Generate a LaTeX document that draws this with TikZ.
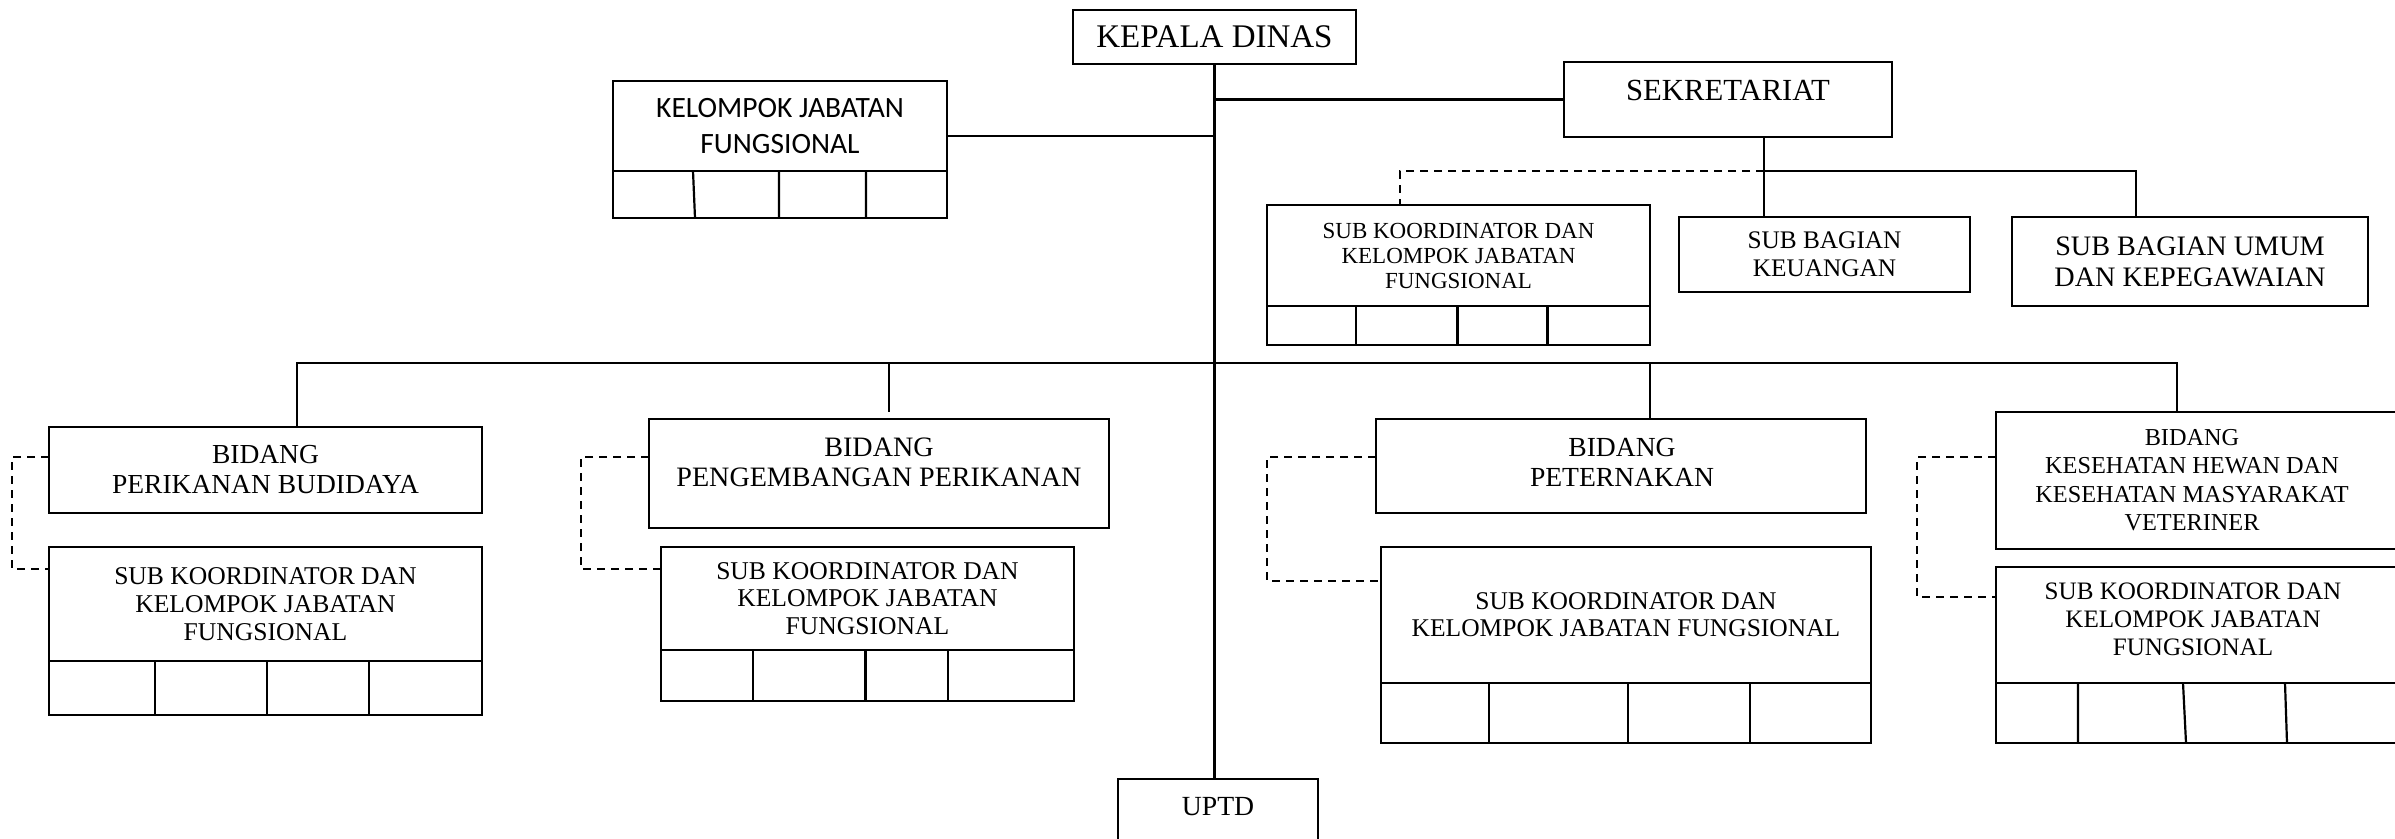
\documentclass[tikz,border=0pt]{standalone}
\usepackage{fontspec}
\setmainfont{Liberation Serif}
\newfontfamily\calib{Carlito}
\newcommand\fsz[2]{\fontsize{#1pt}{#2pt}\selectfont}
\begin{document}
\begin{tikzpicture}[x=1pt,y=-1pt,
  box/.style={draw, line width=2.5pt, inner sep=0pt, outer sep=0pt, anchor=north west, align=center},
  lbl/.style={inner sep=0pt, align=center},
  conn/.style={line width=2.2pt},
  dashconn/.style={line width=2.2pt, dash pattern=on 8pt off 6pt},
  cell/.style={line width=2.2pt}]
\useasboundingbox (0,0) rectangle (2395,838);
\clip (0,0) rectangle (2395,838);

% top level
\node[box, minimum width=283, minimum height=54, font=\fsz{33}{36}] (kd) at (1073,10) {KEPALA DINAS};
\node[box, minimum width=328, minimum height=75] (sek) at (1564,62) {};
\node[lbl, font=\fsz{30.7}{34}] (sekt) at (1728,90) {SEKRETARIAT};

\node[box, minimum width=334, minimum height=90, font=\calib\fsz{29.5}{36}] (kjf) at (613,81) {KELOMPOK JABATAN\\FUNGSIONAL};
\node[box, minimum width=334, minimum height=47] (kjfc) at (613,171) {};
\draw[cell] (693,171) -- (695,218) (779,171) -- (779,218) (866,171) -- (866,218);

% sekretariat children
\node[box, minimum width=383, minimum height=101, font=\fsz{23}{25}] (skS) at (1267,205) {SUB KOORDINATOR DAN\\KELOMPOK JABATAN\\FUNGSIONAL};
\node[box, minimum width=383, minimum height=39] (skSc) at (1267,306) {};
\draw[cell] (1356,306) -- (1356,345) (1457.5,306) -- (1457.5,345) (1547.5,306) -- (1547.5,345);

\node[box, minimum width=291, minimum height=75, font=\fsz{25.3}{28}] (sbk) at (1679,217) {SUB BAGIAN\\KEUANGAN};
\node[box, minimum width=356, minimum height=89, font=\fsz{28.2}{31}] (sbu) at (2012,217) {SUB BAGIAN UMUM\\DAN KEPEGAWAIAN};

% bidang 1
\node[box, minimum width=433, minimum height=86, font=\fsz{27.5}{30}] (b1) at (49,427) {BIDANG\\PERIKANAN BUDIDAYA};
\node[box, minimum width=433, minimum height=114, font=\fsz{25.6}{28}] (s1) at (49,547) {SUB KOORDINATOR DAN\\KELOMPOK JABATAN\\FUNGSIONAL};
\node[box, minimum width=433, minimum height=54] (s1c) at (49,661) {};
\draw[cell] (155,661) -- (155,715) (267,661) -- (267,715) (369,661) -- (369,715);

% bidang 2
\node[box, minimum width=460, minimum height=109] (b2) at (649,419) {};
\node[lbl, font=\fsz{28.1}{30}] (b2t) at (879,462) {BIDANG\\PENGEMBANGAN PERIKANAN};
\node[box, minimum width=413, minimum height=103, font=\fsz{25.6}{27.5}] (s2) at (661,547) {SUB KOORDINATOR DAN\\KELOMPOK JABATAN\\FUNGSIONAL};
\node[box, minimum width=413, minimum height=51] (s2c) at (661,650) {};
\draw[cell] (753,650) -- (753,701) (865.5,650) -- (865.5,701) (948,650) -- (948,701);

% bidang 3
\node[box, minimum width=490, minimum height=94] (b3) at (1376,419) {};
\node[lbl, font=\fsz{27.6}{30}] (b3t) at (1622,462) {BIDANG\\PETERNAKAN};
\node[box, minimum width=490, minimum height=136, font=\fsz{25.5}{27}] (s3) at (1381,547) {SUB KOORDINATOR DAN\\KELOMPOK JABATAN FUNGSIONAL};
\node[box, minimum width=490, minimum height=60] (s3c) at (1381,683) {};
\draw[cell] (1489,683) -- (1489,743) (1628,683) -- (1628,743) (1750,683) -- (1750,743);

% bidang 4
\node[box, minimum width=404, minimum height=137] (b4) at (1996,412) {};
\node[lbl, font=\fsz{24.3}{28.5}] (b4t) at (2192,480) {BIDANG\\KESEHATAN HEWAN DAN\\KESEHATAN MASYARAKAT\\VETERINER};
\node[box, minimum width=404, minimum height=116] (s4) at (1996,567) {};
\node[lbl, font=\fsz{25.1}{28}] (s4t) at (2193,619) {SUB KOORDINATOR DAN\\KELOMPOK JABATAN\\FUNGSIONAL};
\node[box, minimum width=404, minimum height=60] (s4c) at (1996,683) {};
\draw[cell] (2078,683) -- (2078,743) (2183,683) -- (2186,743) (2285,683) -- (2287,743);

% UPTD
\node[box, minimum width=200, minimum height=80] (uptd) at (1118,779) {};
\node[lbl, font=\fsz{27.7}{30}] (uptdt) at (1218,807) {UPTD};

% connectors
\coordinate (yk) at (0,136);
\coordinate (sj) at (1764,171);
\coordinate (uj) at (2136,171);
\coordinate (dj) at (1400,171);
\coordinate (bl) at (297,363);
\coordinate (br) at (2177,363);
\coordinate (v2) at (889,412);
\coordinate (v3) at (1650,363);

\draw[conn] (kd.south) -- (kd.south |- uptd.north);
\draw[conn] (kjf.east |- yk) -- (kd.south |- yk);
\draw[conn] (kd.south |- sek.west) -- (sek.west);
\draw[conn] (sj |- sek.south) -- (sj |- sbk.north);
\draw[conn] (sj) -- (uj) -- (uj |- sbu.north);
\draw[dashconn] (sj) -- (dj) -- (dj |- skS.north);

\draw[conn] (bl |- b1.north) -- (bl) -- (br) -- (br |- b4.north);
\draw[conn] (v2 |- bl) -- (v2);
\draw[conn] (v3) -- (v3 |- b3.north);

\draw[dashconn] ([yshift=13pt]b1.west) -- ++(-37,0) |- ([yshift=35pt]s1.west);
\draw[dashconn] ([yshift=16.5pt]b2.west) -- ++(-68,0) |- ([yshift=29.5pt]s2.west);
\draw[dashconn] ([yshift=9pt]b3.west) -- ++(-109,0) |- ([yshift=34pt]s3.west);
\draw[dashconn] ([yshift=23.5pt]b4.west) -- ++(-79,0) |- ([yshift=28pt]s4.west);
\end{tikzpicture}
\end{document}
